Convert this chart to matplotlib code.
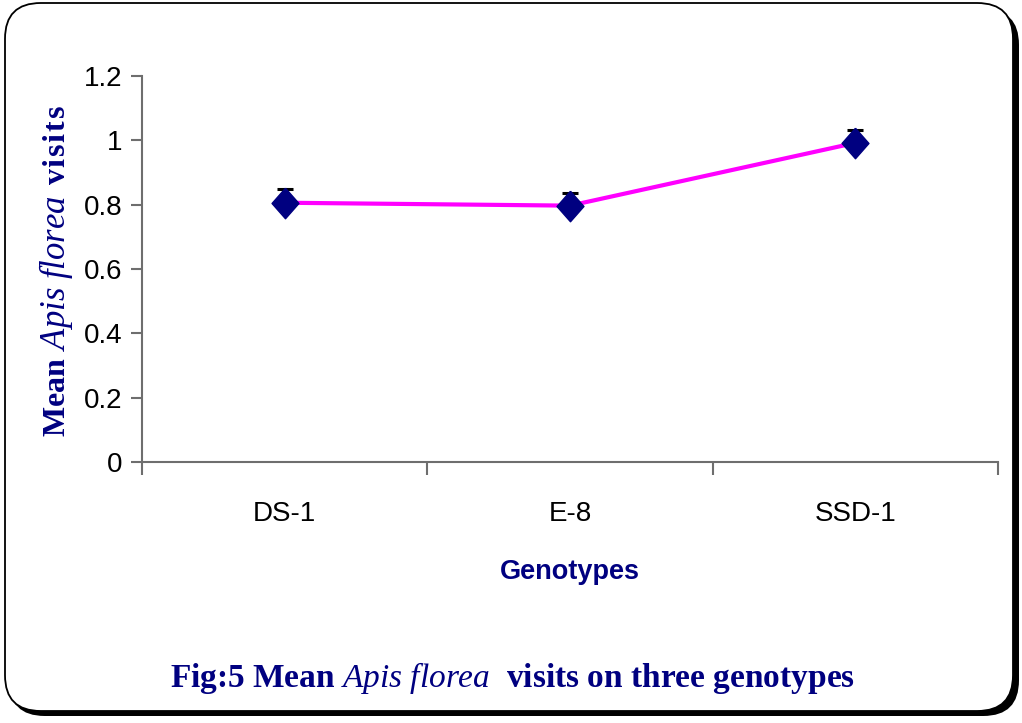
import numpy as np
import matplotlib
matplotlib.use('Agg')
import matplotlib.pyplot as plt
from matplotlib.patches import FancyBboxPatch

#### DATA

genotypes = ['DS-1', 'E-8', 'SSD-1']
mean_visits = [0.806, 0.797, 0.992]
err_visits = [0.043, 0.040, 0.040]

yticks = [0, 0.2, 0.4, 0.6, 0.8, 1, 1.2]
ytick_labels = ['0', '0.2', '0.4', '0.6', '0.8', '1', '1.2']

navy = '#000080'
axis_grey = '#6e6e6e'

#### PLOT

plt.rcParams['mathtext.fontset'] = 'custom'
plt.rcParams['mathtext.it'] = 'Liberation Serif:italic'
plt.rcParams['mathtext.rm'] = 'Liberation Serif:bold'
plt.rcParams['mathtext.bf'] = 'Liberation Serif:bold'

fig = plt.figure(figsize=(10.22, 7.23), dpi=100)
W, H = 1022., 723.

# rounded frame with shadow
shadow = FancyBboxPatch((9/W, 7/H), 1010/W, 707/H, boxstyle='round,pad=0,rounding_size=0.035',
	transform=fig.transFigure, facecolor='black', edgecolor='black', linewidth=0,
	mutation_aspect=W/H, zorder=-3)
frame = FancyBboxPatch((5/W, 12/H), 1008/W, 708/H, boxstyle='round,pad=0,rounding_size=0.035',
	transform=fig.transFigure, facecolor='white', edgecolor='black', linewidth=1.3,
	mutation_aspect=W/H, zorder=-2)
fig.patches.append(shadow)
fig.patches.append(frame)

ax = fig.add_axes([142/W, 1 - 462/H, (998-142)/W, (462-76)/H])
ax.patch.set_alpha(0)

x = np.arange(len(genotypes)) + 0.5

diamond = [(0, 1), (0.88, 0), (0, -1), (-0.88, 0), (0, 1)]

# plus-direction error bars only
ax.errorbar(x, mean_visits, yerr=[np.zeros(len(err_visits)), err_visits], fmt='none',
	ecolor='black', elinewidth=1.5, capsize=6, capthick=2.2, zorder=2)
ax.plot(x, mean_visits, color='#ff00ff', linewidth=3, zorder=3)
ax.plot(x, mean_visits, linestyle='none', marker=diamond, markersize=22,
	markerfacecolor=navy, markeredgecolor=navy, zorder=4)

ax.set_xlim(0, 3)
ax.set_ylim(0, 1.2)

ax.set_xticks(x)
ax.set_xticklabels(genotypes, fontsize=20, family='Liberation Sans')
ax.set_xticks([0, 1, 2, 3], minor=True)
ax.tick_params(axis='x', which='major', length=0, pad=28)
ax.tick_params(axis='x', which='minor', length=9, width=1.5, color=axis_grey, direction='out')

ax.set_yticks(yticks)
ax.set_yticklabels(ytick_labels, fontsize=20, family='Liberation Sans')
ax.tick_params(axis='y', length=8, width=1.5, color=axis_grey, direction='out', pad=6)

for side in ['top', 'right']:
	ax.spines[side].set_visible(False)
for side in ['left', 'bottom']:
	ax.spines[side].set_color(axis_grey)
	ax.spines[side].set_linewidth(1.5)

ax.set_xlabel('Genotypes', fontsize=19.5, fontweight='bold', color=navy,
	family='Liberation Sans', labelpad=23)

# y label in three pieces: bold / italic / spaced bold
ylab = dict(rotation=90, rotation_mode='anchor', ha='center', va='baseline', color=navy)
fig.text(65/W, 1 - 397/H, r'$\mathrm{Mean}$', fontsize=23, **ylab)
fig.text(65/W, 1 - 273/H, r'$\mathit{Apis\ florea}$', fontsize=25, **ylab)
fig.text(65/W, 1 - 145/H,
	r'$\mathrm{v\hspace{0.08}i\hspace{0.08}s\hspace{0.08}i\hspace{0.08}t\hspace{0.08}s}$',
	fontsize=23, **ylab)

fig.text(512/W, 1 - 678/H, r'Fig:5 Mean $\mathit{Apis\ florea}$  visits on three genotypes',
	ha='center', va='center', fontsize=24, fontweight='bold',
	color=navy, family='Liberation Serif')

plt.savefig('out.png', dpi=100)
